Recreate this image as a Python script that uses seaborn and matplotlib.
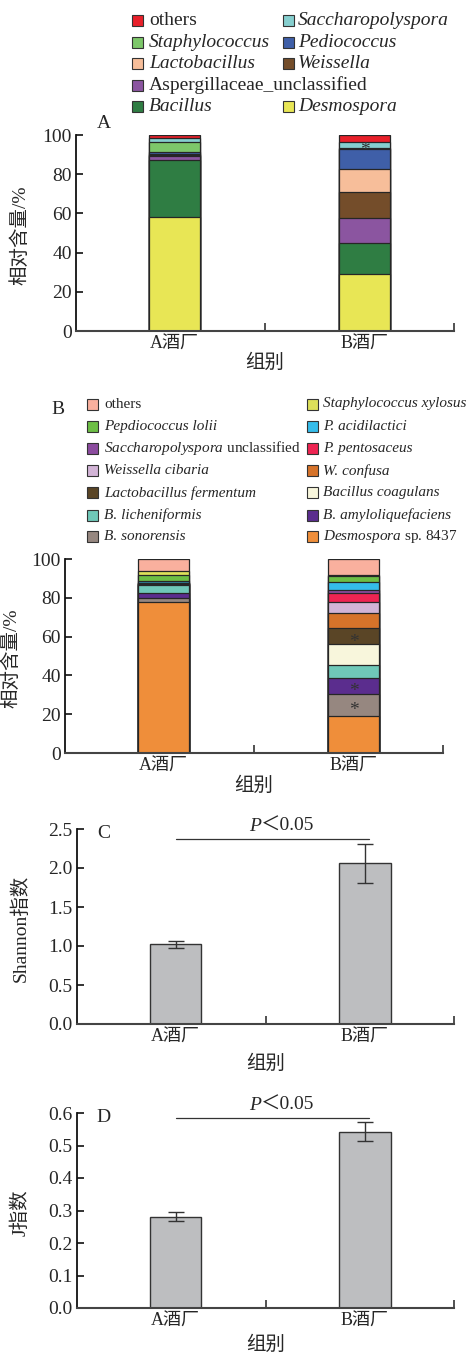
import numpy as np
import matplotlib
matplotlib.use("Agg")
import matplotlib.pyplot as plt
import seaborn as sns
from matplotlib.patches import Rectangle

sns.set_style("ticks")
plt.rcParams["font.family"] = ["Liberation Serif", "Noto Sans CJK SC"]
plt.rcParams["mathtext.fontset"] = "custom"
plt.rcParams["mathtext.it"] = "Liberation Serif:italic"
plt.rcParams["mathtext.rm"] = "Liberation Serif"
plt.rcParams["axes.unicode_minus"] = False

# ---------------- data ----------------
groups = ["A酒厂", "B酒厂"]
xlabel = "组别"

# Panel A : genus level, stacked bottom -> top
genus_names = ["Desmospora", "Bacillus", "Aspergillaceae_unclassified", "Weissella",
               "Lactobacillus", "Pediococcus", "Staphylococcus", "Saccharopolyspora", "others"]
genus_A = [58.0, 29.4, 1.9, 0.5, 0.5, 1.0, 5.3, 1.7, 1.7]
genus_B = [28.9, 15.8, 13.0, 13.1, 11.8, 10.5, 0.4, 3.0, 3.5]
genus_colors = ["#E8E655", "#2F7D43", "#8B55A0", "#744D2A", "#F7BE9A",
                "#3F5FA8", "#7DC76A", "#86CFCF", "#E8202A"]
genus_italic = [True, True, False, True, True, True, True, True, False]
genus_star_B = ["Saccharopolyspora"]

# Panel B : species level, stacked bottom -> top
species_names = ["Desmospora sp. 8437", "B. sonorensis", "B. amyloliquefaciens", "B. licheniformis",
                 "Bacillus coagulans", "Lactobacillus fermentum", "W. confusa", "Weissella cibaria",
                 "P. pentosaceus", "Saccharopolyspora unclassified", "P. acidilactici",
                 "Pepdiococcus lolii", "Staphylococcus xylosus", "others"]
species_labels = [r"$\mathit{Desmospora}$ sp. 8437", "B. sonorensis", "B. amyloliquefaciens",
                  "B. licheniformis", "Bacillus coagulans", "Lactobacillus fermentum", "W. confusa",
                  "Weissella cibaria", "P. pentosaceus", r"$\mathit{Saccharopolyspora}$ unclassified",
                  "P. acidilactici", "Pepdiococcus lolii", "Staphylococcus xylosus", "others"]
species_A = [77.6, 2.1, 3.0, 4.0, 0.2, 0.3, 0.2, 0.1, 0.1, 0.1, 1.1, 3.0, 2.0, 6.2]
species_B = [18.9, 11.7, 8.0, 6.9, 10.5, 8.2, 8.0, 5.4, 4.9, 1.7, 4.1, 3.1, 0.6, 8.0]
species_colors = ["#EF8E3A", "#968780", "#5B2D8E", "#6FC8B8", "#F8F6DC", "#5A4526", "#D6732A",
                  "#D2B4D6", "#EE2452", "#8B4B9E", "#35BCEA", "#6DBE45", "#DDE05A", "#F9B09E"]
species_italic = [False, True, True, True, True, True, True, True, True, False, True, True, True, False]
species_star_B = ["Lactobacillus fermentum", "B. amyloliquefaciens", "B. sonorensis"]

# Panel C / D : diversity indices
shannon_mean = [1.02, 2.06]
shannon_err = [0.045, 0.25]
j_mean = [0.281, 0.542]
j_err = [0.013, 0.029]
p_text = "＜0.05"

# ---------------- layout ----------------
W, H = 466, 1355
fig = plt.figure(figsize=(W / 100, H / 100), dpi=100)


def add_axes_px(left, top, right, bottom):
    return fig.add_axes([left / W, 1 - bottom / H, (right - left) / W, (bottom - top) / H])


axA = add_axes_px(76, 135, 454, 331)
axB = add_axes_px(65, 559, 443, 753)
axC = add_axes_px(77, 829, 454, 1024)
axD = add_axes_px(77, 1113, 454, 1308)

EDGE = "#262626"


def style_axes(ax, ylim, yticks, fmt, ylabel, label_x, labelpad_x):
    ax.set_ylim(*ylim)
    ax.set_yticks(yticks)
    ax.set_yticklabels([fmt.format(t) for t in yticks])
    ax.set_xlim(-0.52, 1.47)
    ax.set_xticks([0, 1])
    ax.set_xticklabels(groups)
    ax.set_xticks([0.475, 1.47], minor=True)
    ax.tick_params(axis="x", which="major", length=0, pad=3.5, labelsize=13)
    ax.tick_params(axis="x", which="minor", direction="in", length=5.5, width=1.2, color="#333333")
    ax.tick_params(axis="y", direction="in", length=5, width=1.2, labelsize=14, pad=3, color="#111111")
    for s in ["top", "right"]:
        ax.spines[s].set_visible(False)
    ax.spines["left"].set_linewidth(1.3)
    ax.spines["left"].set_color("#111111")
    ax.spines["bottom"].set_linewidth(1.5)
    ax.spines["bottom"].set_color("#444444")
    ax.set_xlabel(xlabel, fontsize=14, labelpad=labelpad_x)
    ax.set_ylabel(ylabel, fontsize=14)
    ax.yaxis.set_label_coords(label_x, 0.49)
    ax.grid(False)


def stacked(ax, vals_A, vals_B, colors):
    cum = np.cumsum(np.array([vals_A, vals_B], dtype=float), axis=1)
    for i in reversed(range(cum.shape[1])):
        sns.barplot(x=groups, y=cum[:, i], color=colors[i], saturation=1, width=0.27,
                    edgecolor=EDGE, linewidth=0.9, ax=ax)
    return cum


def stars(ax, cum, vals, names, star_names, group_idx):
    for nm in star_names:
        i = names.index(nm)
        ymid = cum[group_idx, i] - vals[i] / 2
        ax.annotate("*", xy=(group_idx, ymid), xytext=(0, -7.5), textcoords="offset points",
                    ha="center", va="baseline", fontsize=14, color="#333333")


# Panel A
cumA = stacked(axA, genus_A, genus_B, genus_colors)
stars(axA, cumA, genus_B, genus_names, genus_star_B, 1)
style_axes(axA, (0, 100), [0, 20, 40, 60, 80, 100], "{:.0f}", "相对含量/%", -0.122, 0.5)

# Panel B
cumB = stacked(axB, species_A, species_B, species_colors)
stars(axB, cumB, species_B, species_names, species_star_B, 1)
style_axes(axB, (0, 100), [0, 20, 40, 60, 80, 100], "{:.0f}", "相对含量/%", -0.119, 1.5)


# Panels C, D
def index_panel(ax, means, errs, ylim, yticks, ylabel, sig_y, text_y, lpad):
    sns.barplot(x=groups, y=means, color="#BDBEC0", saturation=1, width=0.27,
                edgecolor="#333333", linewidth=1.0, ax=ax)
    ax.errorbar(x=np.arange(len(means)), y=means, yerr=errs, fmt="none", ecolor="#333333",
                elinewidth=1.0, capsize=6, capthick=1.0)
    style_axes(ax, ylim, yticks, "{:.1f}", ylabel, -0.125, lpad)
    ax.plot([0, 1.02], [sig_y, sig_y], color="#333333", lw=0.9, clip_on=False)
    ax.text(0.45, text_y, "P", style="italic", ha="right", va="center", fontsize=14)
    ax.text(0.45, text_y, p_text, ha="left", va="center", fontsize=14)


index_panel(axC, shannon_mean, shannon_err, (0, 2.5), [0, 0.5, 1.0, 1.5, 2.0, 2.5],
            "Shannon指数", 2.37, 2.53, 6)
index_panel(axD, j_mean, j_err, (0, 0.6), [0, 0.1, 0.2, 0.3, 0.4, 0.5, 0.6],
            "J指数", 0.586, 0.624, 4)

# ---------------- panel letters ----------------
for letter, (px, py) in zip(["A", "B"], [(104, 124), (58, 409)]):
    fig.text(px / W, 1 - py / H, letter, ha="center", va="center", fontsize=14)
for letter, ax in zip(["C", "D"], [axC, axD]):
    ax.text(0.07, 0.975, letter, transform=ax.transAxes, ha="center", va="center", fontsize=14)


# ---------------- legends ----------------
def legend_entry(box_x, y, size, color, label, italic, fontsize, text_x):
    fig.add_artist(Rectangle((box_x / W, 1 - (y + size / 2) / H), size / W, size / H,
                             transform=fig.transFigure, facecolor=color,
                             edgecolor="#333333", linewidth=0.8))
    fig.text(text_x / W, 1 - y / H, label, ha="left", va="center", fontsize=fontsize,
             style="italic" if italic else "normal")


# genus legend (column, row)
genus_layout = {"others": (0, 0), "Saccharopolyspora": (1, 0), "Staphylococcus": (0, 1),
                "Pediococcus": (1, 1), "Lactobacillus": (0, 2), "Weissella": (1, 2),
                "Aspergillaceae_unclassified": (0, 3), "Bacillus": (0, 4), "Desmospora": (1, 4)}
gA_box_x = [132, 283]
gA_text_x = [149, 298]
gA_rows = [20.7, 42.3, 63.3, 85.0, 106.7]
for i, nm in enumerate(genus_names):
    c, r = genus_layout[nm]
    legend_entry(gA_box_x[c], gA_rows[r], 11, genus_colors[i], nm, genus_italic[i], 14, gA_text_x[c])

gB_box_x = [87, 307]
gB_text_x = [104, 323]
gB_rows = [404.0, 426.7, 448.3, 470.7, 492.7, 515.0, 536.7]
n_sp = len(species_names)
for i in range(n_sp):
    c = 0 if i % 2 == 1 else 1
    r = (n_sp - 1 - i) // 2
    legend_entry(gB_box_x[c], gB_rows[r], 11, species_colors[i], species_labels[i],
                 species_italic[i], 11, gB_text_x[c])

fig.savefig("out.png", dpi=100)
